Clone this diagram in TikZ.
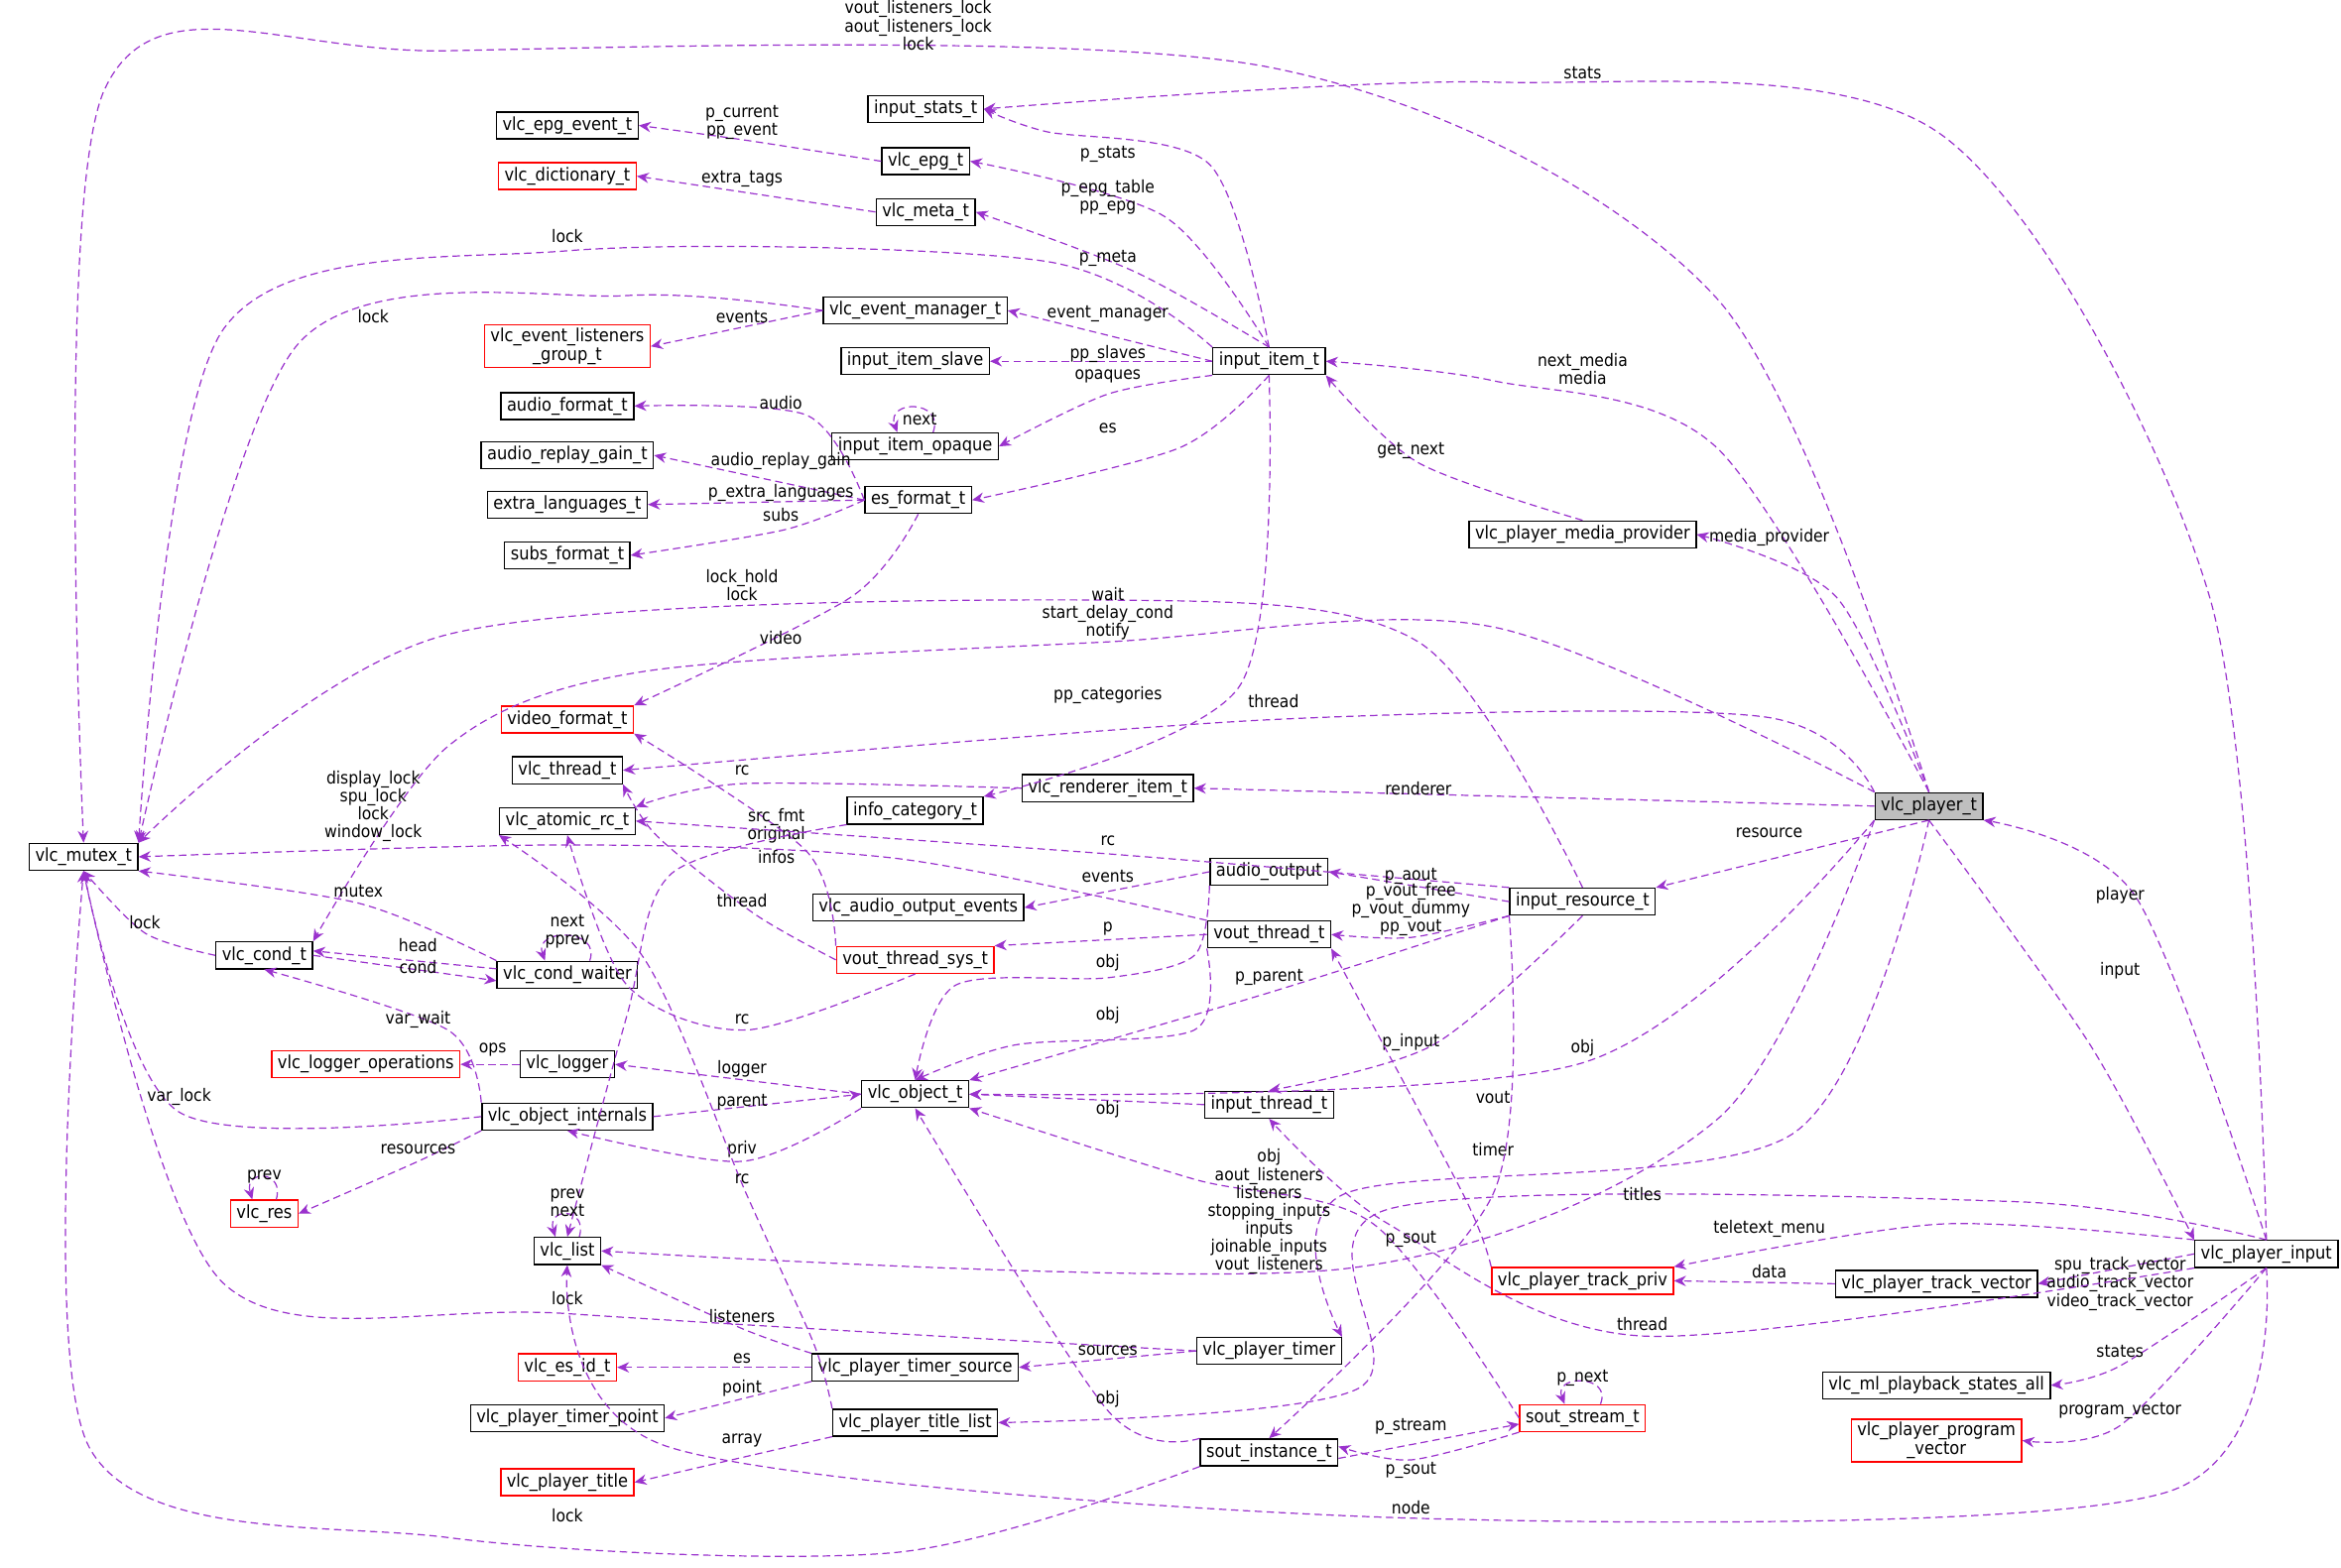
\documentclass[tikz,border=0pt]{standalone}
\usepackage{fontspec}
\setmainfont{DejaVu Sans Condensed}
\usetikzlibrary{arrows.meta}
\definecolor{ec}{HTML}{9A32CD}
\begin{document}
\begin{tikzpicture}[x=1pt,y=-1pt,
  bx/.style={draw=black,line width=0.9pt,fill=white,inner xsep=4pt,inner ysep=2pt,minimum height=18pt,font=\fontsize{12}{12.5}\selectfont,align=center},
  rb/.style={bx,draw=red},
  e/.style={draw=ec,line width=0.8pt,dash pattern=on 5pt off 3pt,-{Stealth[length=8pt,width=7pt]}},
  l/.style={font=\fontsize{11.5}{12}\selectfont,align=center,inner sep=0pt}]
\useasboundingbox (0,0) rectangle (1568,1050);
% nodes
\node[bx] (mutex) at (56,574) {vlc\_mutex\_t};
\node[bx] (stats) at (620,73) {input\_stats\_t};
\node[bx] (epgev) at (380,84) {vlc\_epg\_event\_t};
\node[bx] (epg) at (620,108) {vlc\_epg\_t};
\node[rb] (dict) at (380,118) {vlc\_dictionary\_t};
\node[bx] (meta) at (620,142) {vlc\_meta\_t};
\node[bx] (evm) at (613,208) {vlc\_event\_manager\_t};
\node[rb] (elg) at (380,232) {vlc\_event\_listeners\\\_group\_t};
\node[bx] (slave) at (613,242) {input\_item\_slave};
\node[bx] (item) at (850,242) {input\_item\_t};
\node[bx] (afmt) at (380,272) {audio\_format\_t};
\node[bx] (opq) at (613,299) {input\_item\_opaque};
\node[bx] (arg) at (380,305) {audio\_replay\_gain\_t};
\node[bx] (xl) at (380,338) {extra\_languages\_t};
\node[bx] (es) at (615,335) {es\_format\_t};
\node[bx] (subs) at (380,372) {subs\_format\_t};
\node[bx] (mprov) at (1060,358) {vlc\_player\_media\_provider};
\node[rb] (vfmt) at (380,482) {video\_format\_t};
\node[bx] (thr) at (380,516) {vlc\_thread\_t};
\node[bx] (rend) at (742,528) {vlc\_renderer\_item\_t};
\node[bx,fill=black!25] (player) at (1292,540) {vlc\_player\_t};
\node[bx] (rc) at (380,550) {vlc\_atomic\_rc\_t};
\node[bx] (infocat) at (613,543) {info\_category\_t};
\node[bx] (aout) at (850,584) {audio\_output};
\node[bx] (aoev) at (615,608) {vlc\_audio\_output\_events};
\node[bx] (ires) at (1060,604) {input\_resource\_t};
\node[bx] (vout) at (850,626) {vout\_thread\_t};
\node[bx] (cond) at (177,640) {vlc\_cond\_t};
\node[bx] (waiter) at (380,653) {vlc\_cond\_waiter};
\node[rb] (vsys) at (613,643) {vout\_thread\_sys\_t};
\node[rb] (logops) at (245,713) {vlc\_logger\_operations};
\node[bx] (logger) at (380,713) {vlc\_logger};
\node[bx] (obj) at (613,733) {vlc\_object\_t};
\node[bx] (ithr) at (850,740) {input\_thread\_t};
\node[bx] (oint) at (380,748) {vlc\_object\_internals};
\node[rb] (res) at (177,813) {vlc\_res};
\node[bx] (list) at (380,838) {vlc\_list};
\node[rb] (tpriv) at (1060,858) {vlc\_player\_track\_priv};
\node[bx] (tvec) at (1297,860) {vlc\_player\_track\_vector};
\node[bx] (pin) at (1518,840) {vlc\_player\_input};
\node[bx] (timer) at (850,905) {vlc\_player\_timer};
\node[rb] (esid) at (380,916) {vlc\_es\_id\_t};
\node[bx] (tsrc) at (613,916) {vlc\_player\_timer\_source};
\node[bx] (ml) at (1297,928) {vlc\_ml\_playback\_states\_all};
\node[bx] (tpt) at (380,950) {vlc\_player\_timer\_point};
\node[bx] (tlist) at (613,953) {vlc\_player\_title\_list};
\node[rb] (sst) at (1060,950) {sout\_stream\_t};
\node[bx] (sin) at (850,973) {sout\_instance\_t};
\node[rb] (pvec) at (1297,965) {vlc\_player\_program\\\_vector};
\node[rb] (title) at (380,993) {vlc\_player\_title};
% edges
\draw[e] plot[smooth] coordinates {(player.north) (1150,200) (850,45) (300,34) (70,60) (mutex.north)};
\node[l] at (615,17) {vout\_listeners\_lock\\aout\_listeners\_lock\\lock};
\draw[e] plot[smooth] coordinates {(pin.north) (1480,400) (1300,90) (1000,55) (stats.east)};
\node[l] at (1060,49) {stats};
\draw[e] plot[smooth] coordinates {(epg.west) (500,94) (epgev.east)};
\node[l] at (497,82) {p\_current\\pp\_event};
\draw[e] plot[smooth] coordinates {(item.north) (810,110) (700,88) (stats.east)};
\node[l] at (742,103) {p\_stats};
\draw[e] plot[smooth] coordinates {(item.north) (780,145) (epg.east)};
\node[l] at (742,132) {p\_epg\_table\\pp\_epg};
\draw[e] (meta.west) -- (dict.east);
\node[l] at (497,120) {extra\_tags};
\draw[e] plot[smooth] coordinates {(item.north) (760,182) (meta.east)};
\node[l] at (742,173) {p\_meta};
\draw[e] plot[smooth] coordinates {(item.north west) (700,175) (380,168) (150,220) (mutex.north east)};
\node[l] at (380,158) {lock};
\draw[e] plot[smooth] coordinates {(evm.west) (420,198) (200,230) (mutex.north east)};
\node[l] at (250,212) {lock};
\draw[e] (evm.west) -- (elg.east);
\node[l] at (497,212) {events};
\draw[e] (item.west) -- (evm.east);
\node[l] at (742,210) {event\_manager};
\draw[e] (item.west) -- (slave.east);
\node[l] at (742,237) {pp\_slaves};
\draw[e] plot[smooth] coordinates {(item.south west) (742,264) (opq.east)};
\node[l] at (742,252) {opaques};
\draw[e] ([xshift=12pt]opq.north) .. controls +(8,-22) and +(-8,-22) .. ([xshift=-12pt]opq.north);
\node[l] at (616,281) {next};
\draw[e] plot[smooth] coordinates {(item.south) (790,300) (es.east)};
\node[l] at (742,287) {es};
\draw[e] plot[smooth] coordinates {(es.west) (540,278) (afmt.east)};
\node[l] at (523,270) {audio};
\draw[e] (es.west) -- (arg.east);
\node[l] at (523,309) {audio\_replay\_gain};
\draw[e] (es.west) -- (xl.east);
\node[l] at (523,330) {p\_extra\_languages};
\draw[e] plot[smooth] coordinates {(es.west) (525,355) (subs.east)};
\node[l] at (523,345) {subs};
\draw[e] plot[smooth] coordinates {(es.south) (570,400) (vfmt.north east)};
\node[l] at (523,427) {video};
\draw[e] plot[smooth] coordinates {(player.north) (1150,300) (1000,255) (item.east)};
\node[l] at (1060,247) {next\_media\\media};
\draw[e] plot[smooth] coordinates {(mprov.north) (950,310) (item.south east)};
\node[l] at (945,302) {get\_next};
\draw[e] plot[smooth] coordinates {(player.north) (1230,400) (mprov.east)};
\node[l] at (1185,360) {media\_provider};
\draw[e] plot[smooth] coordinates {(ires.north) (950,430) (742,402) (300,425) (mutex.north east)};
\node[l] at (497,392) {lock\_hold\\lock};
\draw[e] plot[smooth] coordinates {(player.north west) (1000,420) (742,430) (430,450) (300,500) (cond.north east)};
\node[l] at (742,411) {wait\\start\_delay\_cond\\notify};
\draw[e] plot[smooth] coordinates {(player.north west) (1180,480) (853,482) (thr.east)};
\node[l] at (853,470) {thread};
\draw[e] plot[smooth] coordinates {(item.south) (830,460) (infocat.north east)};
\node[l] at (742,466) {pp\_categories};
\draw[e] (player.west) -- (rend.east);
\node[l] at (950,528) {renderer};
\draw[e] plot[smooth] coordinates {(rend.west) (497,525) (rc.north east)};
\node[l] at (497,516) {rc};
\draw[e] plot[smooth] coordinates {(vsys.north west) (540,570) (vfmt.south east)};
\node[l] at (520,553) {src\_fmt\\original};
\draw[e] plot[smooth] coordinates {(vsys.west) (505,612) (440,560) (thr.south east)};
\node[l] at (497,603) {thread};
\draw[e] plot[smooth] coordinates {(ires.north west) (742,572) (rc.east)};
\node[l] at (742,563) {rc};
\draw[e] plot[smooth] coordinates {(infocat.south west) (450,585) (420,680) (list.north)};
\node[l] at (520,574) {infos};
\draw[e] plot[smooth] coordinates {(vout.north west) (600,575) (380,566) (mutex.east)};
\node[l] at (250,540) {display\_lock\\spu\_lock\\lock\\window\_lock};
\draw[e] (aout.west) -- (aoev.east);
\node[l] at (742,587) {events};
\draw[e] (ires.west) -- (aout.east);
\node[l] at (945,587) {p\_aout};
\draw[e] plot[smooth] coordinates {(ires.south west) (945,628) (vout.east)};
\node[l] at (945,609) {p\_vout\_free\\p\_vout\_dummy\\pp\_vout};
\draw[e] (vout.west) -- (vsys.north east);
\node[l] at (742,622) {p};
\draw[e] (player.south) -- (ires.north east);
\node[l] at (1185,558) {resource};
\draw[e] plot[smooth] coordinates {(pin.north) (1430,600) (player.south east)};
\node[l] at (1420,600) {player};
\draw[e] plot[smooth] coordinates {(player.south) (1400,700) (pin.north west)};
\node[l] at (1420,650) {input};
\draw[e] plot[smooth] coordinates {(waiter.north west) (240,605) (mutex.south east)};
\node[l] at (240,597) {mutex};
\draw[e] plot[smooth] coordinates {(cond.west) (97,625) (mutex.south)};
\node[l] at (97,618) {lock};
\draw[e] (cond.east) -- ([yshift=-4pt]waiter.west);
\node[l] at (280,633) {head};
\draw[e] ([yshift=4pt]waiter.west) -- ([yshift=3pt]cond.east);
\node[l] at (280,648) {cond};
\draw[e] ([xshift=15pt]waiter.north) .. controls +(8,-22) and +(-8,-22) .. ([xshift=-15pt]waiter.north);
\node[l] at (380,624) {next\\pprev};
\draw[e] plot[smooth] coordinates {(aout.south west) (800,640) (742,655) (640,660) (obj.north)};
\node[l] at (742,645) {obj};
\draw[e] plot[smooth] coordinates {(vout.south west) (800,690) (680,700) (obj.north)};
\node[l] at (742,680) {obj};
\draw[e] plot[smooth] coordinates {(vsys.south) (500,690) (420,660) (rc.south)};
\node[l] at (497,683) {rc};
\draw[e] plot[smooth] coordinates {(oint.north west) (300,690) (cond.south)};
\node[l] at (280,683) {var\_wait};
\draw[e] plot[smooth] coordinates {(ires.south west) (850,665) (obj.north east)};
\node[l] at (850,655) {p\_parent};
\draw[e] plot[smooth] coordinates {(ires.south) (960,700) (ithr.north)};
\node[l] at (945,698) {p\_input};
\draw[e] plot[smooth] coordinates {(player.south west) (1060,712) (obj.east)};
\node[l] at (1060,702) {obj};
\draw[e] (logger.west) -- (logops.east);
\node[l] at (330,703) {ops};
\draw[e] (obj.west) -- (logger.east);
\node[l] at (497,716) {logger};
\draw[e] plot[smooth] coordinates {(oint.west) (120,745) (mutex.south)};
\node[l] at (120,735) {var\_lock};
\draw[e] (oint.east) -- (obj.west);
\node[l] at (497,738) {parent};
\draw[e] plot[smooth] coordinates {(obj.south west) (497,778) (oint.south)};
\node[l] at (497,770) {priv};
\draw[e] (ithr.west) -- (obj.east);
\node[l] at (742,743) {obj};
\draw[e] plot[smooth] coordinates {(tpriv.north west) (980,800) (vout.south east)};
\node[l] at (1000,735) {vout};
\draw[e] plot[smooth] coordinates {(oint.south west) (280,778) (res.east)};
\node[l] at (280,770) {resources};
\draw[e] ([xshift=8pt]res.north) .. controls +(6,-20) and +(-6,-20) .. ([xshift=-8pt]res.north);
\node[l] at (177,788) {prev};
\draw[e] ([xshift=8pt]list.north) .. controls +(6,-20) and +(-6,-20) .. ([xshift=-8pt]list.north);
\node[l] at (380,806) {prev\\next};
\draw[e] plot[smooth] coordinates {(tlist.north west) (545,900) (500,800) (430,640) (rc.south west)};
\node[l] at (497,790) {rc};
\draw[e] plot[smooth] coordinates {(player.south) (1200,760) (900,800) (timer.north east)};
\node[l] at (1000,770) {timer};
\draw[e] plot[smooth] coordinates {(sst.west) (920,820) (800,790) (obj.south east)};
\node[l] at (850,775) {obj};
\draw[e] plot[smooth] coordinates {(pin.north west) (1300,820) (tpriv.north east)};
\node[l] at (1185,823) {teletext\_menu};
\draw[e] plot[smooth] coordinates {(pin.north) (1350,805) (930,810) (910,930) (tlist.east)};
\node[l] at (1100,800) {titles};
\draw[e] plot[smooth] coordinates {(player.south west) (1150,750) (900,850) (list.east)};
\node[l] at (850,818) {aout\_listeners\\listeners\\stopping\_inputs\\inputs\\joinable\_inputs\\vout\_listeners};
\draw[e] (tvec.west) -- (tpriv.east);
\node[l] at (1185,852) {data};
\draw[e] (pin.west) -- (tvec.east);
\node[l] at (1420,860) {spu\_track\_vector\\audio\_track\_vector\\video\_track\_vector};
\draw[e] plot[smooth] coordinates {(pin.south west) (1100,895) (930,820) (ithr.south)};
\node[l] at (1100,887) {thread};
\draw[e] plot[smooth] coordinates {(ires.south west) (1000,800) (sin.north)};
\node[l] at (945,830) {p\_sout};
\draw[e] plot[smooth] coordinates {(timer.west) (380,880) (150,860) (mutex.south)};
\node[l] at (380,870) {lock};
\draw[e] (timer.west) -- (tsrc.east);
\node[l] at (742,905) {sources};
\draw[e] plot[smooth] coordinates {(tsrc.north west) (497,890) (list.south east)};
\node[l] at (497,882) {listeners};
\draw[e] (tsrc.west) -- (esid.east);
\node[l] at (497,910) {es};
\draw[e] (tsrc.south west) -- (tpt.east);
\node[l] at (497,930) {point};
\draw[e] plot[smooth] coordinates {(sin.north west) (742,945) (obj.south)};
\node[l] at (742,937) {obj};
\draw[e] (tlist.south west) -- (title.east);
\node[l] at (497,965) {array};
\draw[e] ([yshift=-4pt]sin.east) -- ([yshift=-4pt]sst.west);
\node[l] at (945,956) {p\_stream};
\draw[e] plot[smooth] coordinates {(sst.south west) (945,978) ([yshift=4pt]sin.east)};
\node[l] at (945,985) {p\_sout};
\draw[e] ([xshift=12pt]sst.north) .. controls +(8,-20) and +(-8,-20) .. ([xshift=-12pt]sst.north);
\node[l] at (1060,923) {p\_next};
\draw[e] plot[smooth] coordinates {(pin.south) (1420,915) (ml.east)};
\node[l] at (1420,905) {states};
\draw[e] plot[smooth] coordinates {(pin.south) (1420,955) (pvec.east)};
\node[l] at (1420,945) {program\_vector};
\draw[e] plot[smooth] coordinates {(pin.south) (1450,1000) (945,1017) (450,970) (list.south)};
\node[l] at (945,1010) {node};
\draw[e] plot[smooth] coordinates {(sin.south west) (600,1040) (300,1030) (60,970) (mutex.south)};
\node[l] at (380,1015) {lock};
\end{tikzpicture}
\end{document}
